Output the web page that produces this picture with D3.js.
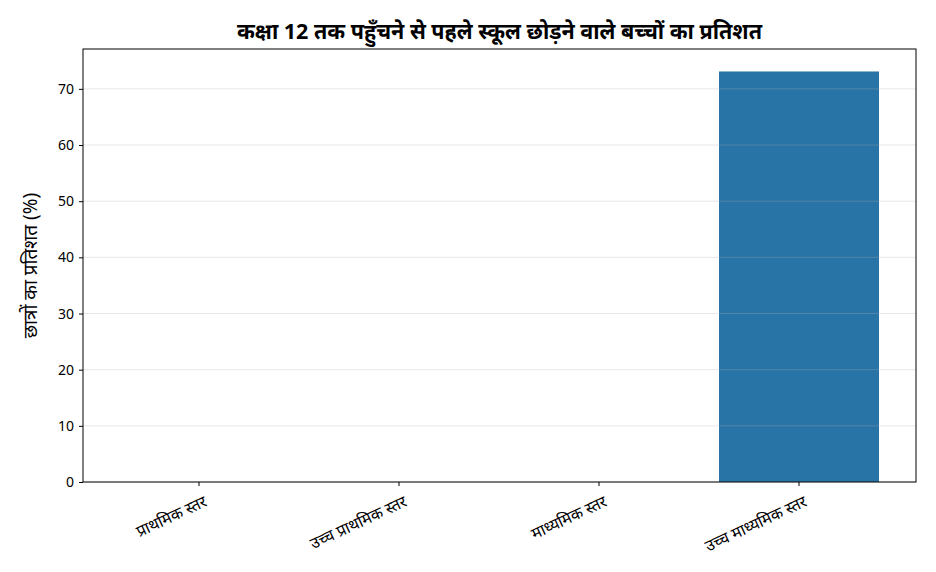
<!DOCTYPE html>
<html><head><meta charset="utf-8">
<script src="https://cdn.jsdelivr.net/npm/d3@7"></script>
<style>body{margin:0;background:#fff;font-family:"Noto Sans","DejaVu Sans",sans-serif}</style>
</head><body><svg id="c" width="936" height="572"></svg>
<script>
const categories = ["प्राथमिक स्तर","उच्च प्राथमिक स्तर","माध्यमिक स्तर","उच्च माध्यमिक स्तर"];
const values = [0, 0, 0, 73.1];
const yTicks = [0,10,20,30,40,50,60,70];
const title = "कक्षा 12 तक पहुँचने से पहले स्कूल छोड़ने वाले बच्चों का प्रतिशत";
const yLabel = "छात्रों का प्रतिशत (%)";

const svg = d3.select("#c");
const L=83,R=916,T=49,B=482;
const x = d3.scaleBand().domain(categories).range([99,899]).paddingInner(0.2).paddingOuter(0.1);
const y = d3.scaleLinear().domain([0,77.1]).range([B,T]);

svg.append("g").selectAll("rect").data(values).join("rect")
  .attr("x",(d,i)=>x(categories[i])).attr("width",x.bandwidth())
  .attr("y",d=>y(d)).attr("height",d=>B-y(d)).attr("fill","#2874a6");

svg.append("g").selectAll("line").data(yTicks).join("line")
  .attr("x1",L).attr("x2",R).attr("y1",d=>y(d)).attr("y2",d=>y(d))
  .attr("stroke","#b0b0b0").attr("stroke-opacity",0.3).attr("stroke-width",1);

const ya = svg.append("g").attr("transform",`translate(${L},0)`).call(d3.axisLeft(y).tickValues(yTicks).tickSize(4).tickPadding(5));
ya.select(".domain").remove();
ya.selectAll("text").attr("font-size",14).attr("fill","#000").attr("font-family","Noto Sans");
const xa = svg.append("g").attr("transform",`translate(0,${B})`).call(d3.axisBottom(x).tickSize(4));
xa.select(".domain").remove();
xa.selectAll("text").attr("font-size",16).attr("fill","#000").attr("font-family","Noto Sans")
  .attr("text-anchor","end").attr("transform","translate(0,4) rotate(-25)").attr("dy","0.9em").attr("dx","0");

svg.append("rect").attr("x",L).attr("y",T).attr("width",R-L).attr("height",B-T)
  .attr("fill","none").attr("stroke","#000").attr("stroke-width",1);

svg.append("text").attr("x",(L+R)/2).attr("y",39).attr("text-anchor","middle")
  .attr("font-size",21.5).attr("font-weight","bold").text(title);
svg.append("text").attr("transform",`translate(37,${(T+B)/2}) rotate(-90)`).attr("text-anchor","middle")
  .attr("font-size",19).text(yLabel);
</script></body></html>
